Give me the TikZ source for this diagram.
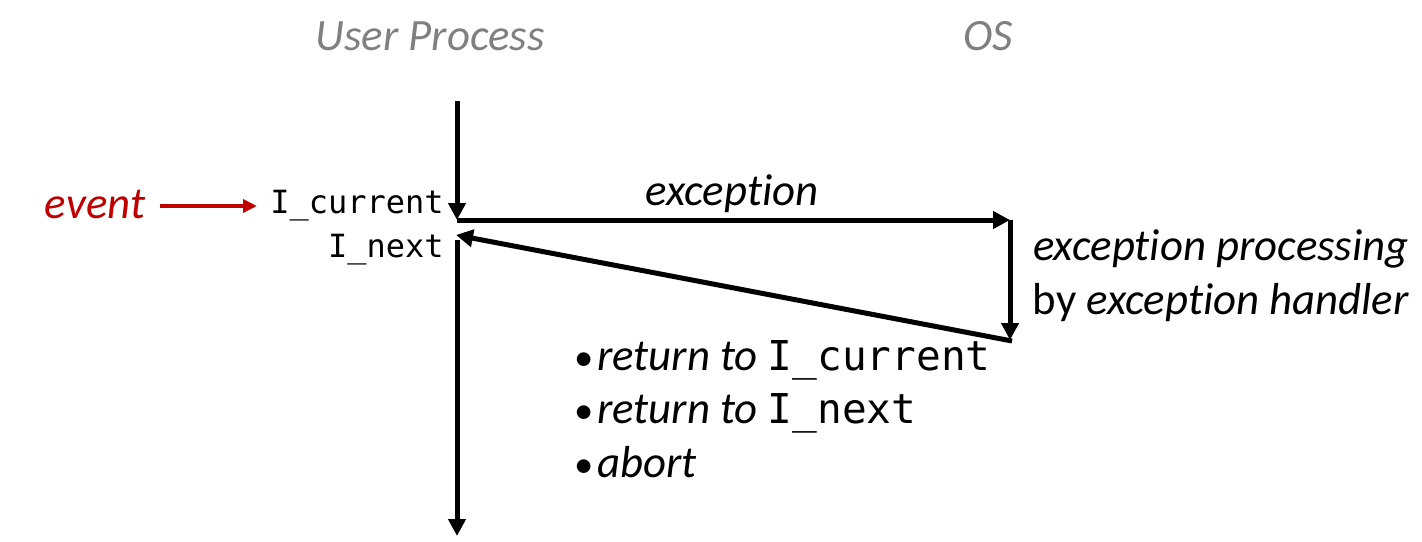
\documentclass[tikz,border=0pt]{standalone}
\usepackage{fontspec}
\setmainfont{Carlito}[Ligatures=NoCommon]
\setmonofont{DejaVu Sans Mono}
\usetikzlibrary{arrows.meta}
\definecolor{titlegray}{RGB}{128,128,128}
\definecolor{evred}{RGB}{192,0,0}
\begin{document}
\begin{tikzpicture}[x=0.02cm,y=-0.02cm,
  flow/.style={line width=0.1cm,-{Triangle[length=0.34cm,width=0.34cm]}},
  redflow/.style={evred,line width=0.07cm,-{Triangle[length=0.28cm,width=0.26cm]}},
  title/.style={font=\fontsize{25.5}{30}\selectfont\itshape,text=titlegray,inner sep=0pt},
  lbl/.style={font=\fontsize{25.5}{30}\selectfont,inner sep=0pt},
  codelbl/.style={font=\fontsize{18.2}{22}\selectfont\ttfamily,inner sep=0pt},
]
\newcommand{\bigcode}[1]{{\fontsize{23.4}{28}\selectfont\ttfamily #1}}
\newcommand{\mybul}{{\fontsize{22}{26}\selectfont\textbullet}\kern2pt}
\useasboundingbox (0,0) rectangle (1422,541);
% coordinates
\coordinate (utop) at (457,101);
\coordinate (ucur) at (457,220);
\coordinate (oscur) at (1010,220);
\coordinate (osend) at (1010,340);
\coordinate (osret) at (1012,341);
\coordinate (unext) at (456,235);
\coordinate (ulow) at (457,240);
\coordinate (ubot) at (457,536);
\coordinate (evs) at (160,206);
\coordinate (eve) at (257,206);
% titles
\node[title,anchor=base] (tuser) at (430,50) {User Process};
\node[title,anchor=base] (tos) at (988,50) {OS};
% arrows
\draw[flow] (utop) -- (ucur);
\draw[flow] (ucur) -- (oscur);
\draw[flow] (oscur) -- (osend);
\draw[flow] (osret) -- (unext);
\draw[flow] (ulow) -- (ubot);
\draw[redflow] (evs) -- (eve);
% labels
\node[lbl,text=evred,font=\fontsize{25.5}{30}\selectfont\itshape,anchor=base] (ev) at (95,218) {event};
\node[codelbl,anchor=base east] (icur) at (444,213) {I\_current};
\node[codelbl,anchor=base east] (inext) at (444,257) {I\_next};
\node[lbl,anchor=base] (exc) at (732,205) {\itshape exception};
\node[lbl,anchor=base east] (proc1) at (1409,260) {\itshape exception processing};
\node[lbl,anchor=base east] (proc2) at (1409,314) {by \itshape exception handler};
\node[lbl,anchor=base west] (b1) at (574,370) {\mybul\textit{return to} \bigcode{I\_current}};
\node[lbl,anchor=base west] (b2) at (574,423) {\mybul\textit{return to} \bigcode{I\_next}};
\node[lbl,anchor=base west] (b3) at (574,477) {\mybul\textit{abort}};
\end{tikzpicture}
\end{document}
